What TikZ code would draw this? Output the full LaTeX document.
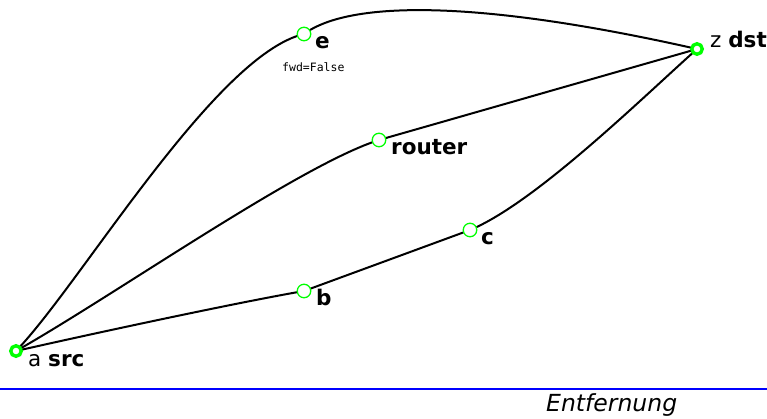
\documentclass[tikz,border=0pt]{standalone}
\usepackage{fontspec}
\setmainfont{DejaVu Sans}
\setmonofont{DejaVu Sans Mono}
\definecolor{ngreen}{RGB}{0,255,0}
\begin{document}
\begin{tikzpicture}[x=1pt,y=-1pt,
  endpt/.style={circle,draw=ngreen,line width=3.4pt,fill=white,minimum size=10.5pt,inner sep=0pt},
  midpt/.style={circle,draw=ngreen,line width=1.3pt,fill=white,minimum size=13.5pt,inner sep=0pt},
  lbl/.style={anchor=base west,inner sep=0pt,font=\fontsize{21.5}{25}\selectfont},
  edge/.style={line width=2pt,black}]
\useasboundingbox (0,0) rectangle (767,419);
% coordinates of nodes
\coordinate (pa) at (16,351);
\coordinate (pz) at (697,49);
\coordinate (pe) at (304,34);
\coordinate (pr) at (379,140);
\coordinate (pb) at (304,291);
\coordinate (pc) at (470,230);
% edges
\draw[edge] (pa) .. controls (80,285) and (215,55) .. (pe);
\draw[edge] (pe) .. controls (350,0) and (480,0) .. (pz);
\draw[edge] (pa) .. controls (115,295) and (300,165) .. (pr);
\draw[edge] (pr) -- (pz);
\draw[edge] (pa) .. controls (100,332) and (240,302) .. (pb);
\draw[edge] (pb) -- (pc);
\draw[edge] (pc) .. controls (535,203) and (640,100) .. (pz);
% nodes
\node[endpt] (a) at (pa) {};
\node[endpt] (z) at (pz) {};
\node[midpt] (e) at (pe) {};
\node[midpt] (r) at (pr) {};
\node[midpt] (b) at (pb) {};
\node[midpt] (c) at (pc) {};
% labels
\node[lbl] (la) at (28,366) {a \textbf{src}};
\node[lbl] (lz) at (710,48) {z \textbf{dst}};
\node[lbl] (le) at (315,49) {\textbf{e}};
\node[anchor=base west,inner sep=0pt,font=\ttfamily\fontsize{11.5}{13}\selectfont] (fe) at (282,72) {fwd=False};
\node[lbl] (lr) at (391,155) {\textbf{router}};
\node[lbl] (lb) at (316,305) {\textbf{b}};
\node[lbl] (lc) at (481,245) {\textbf{c}};
% axis line and label
\coordinate (axl) at (0,389);
\coordinate (axr) at (767,389);
\draw[blue,line width=2.8pt] (axl) -- (axr);
\node[anchor=base west,inner sep=0pt,font=\itshape\fontsize{23.5}{28}\selectfont] (ent) at (546,411) {Entfernung};
\end{tikzpicture}
\end{document}
